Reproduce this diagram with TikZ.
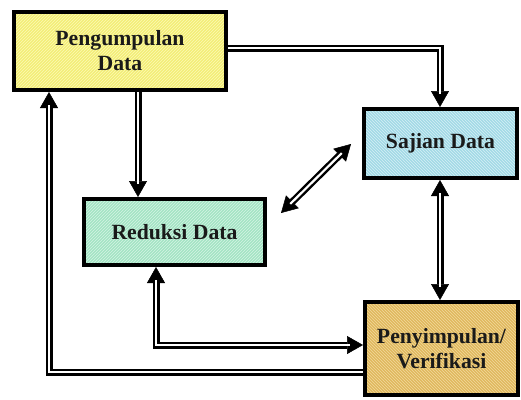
\documentclass[tikz,border=0pt]{standalone}
\usepackage{fontspec}
\setmainfont{Liberation Serif}
\usetikzlibrary{arrows.meta,patterns}
\definecolor{ylw}{HTML}{F3EE78}
\definecolor{ylwl}{HTML}{FCF9B4}
\definecolor{blu}{HTML}{A2DAE6}
\definecolor{blul}{HTML}{D6EFF5}
\definecolor{grn}{HTML}{A4E4C4}
\definecolor{grnl}{HTML}{D4F3E4}
\definecolor{tan}{HTML}{E0B85E}
\definecolor{tanl}{HTML}{F2DA9C}
\definecolor{txt}{HTML}{1A1A1A}
\begin{document}
\begin{tikzpicture}[x=1pt,y=-1pt,
  box/.style={draw=black, line width=4pt, inner sep=0pt, align=center,
    font=\fontsize{21.7}{25}\selectfont\bfseries, text=txt},
  tipb/.tip={Triangle[length=16pt,width=18pt,line width=0.5pt]},
  conn/.style={line width=7pt, line join=miter, black},
  core/.style={draw=white, line width=2.2pt},
]
\useasboundingbox (0,0) rectangle (521,399);

\node[box, minimum width=212pt, minimum height=78pt,
  preaction={fill=ylw}, pattern=north east lines, pattern color=ylwl]
  (P) at (120,51) {Pengumpulan\\Data};
\node[box, minimum width=153pt, minimum height=69pt,
  preaction={fill=blu}, pattern=north west lines, pattern color=blul]
  (S) at (440.5,143.5) {Sajian Data};
\node[box, minimum width=181pt, minimum height=66pt,
  preaction={fill=grn}, pattern=north east lines, pattern color=grnl]
  (R) at (174.5,232) {Reduksi Data};
\node[box, minimum width=153pt, minimum height=93pt,
  preaction={fill=tan}, pattern=north west lines, pattern color=tanl]
  (V) at (441.5,348.5) {Penyimpulan/\\Verifikasi};

\coordinate (c1) at (49,372);
\coordinate (c2) at (156,345);
\coordinate (c3) at (440,0);
\coordinate (c4) at (440,48);
\coordinate (c5) at (138,0);
\coordinate (d1) at (281,213);
\coordinate (d2) at (351,144);

% Pengumpulan -> Reduksi
\draw[conn, -tipb, postaction={core, arrows=-, shorten >=13pt}]
  (P.south -| c5) -- (R.north -| c5);
% Pengumpulan -> Sajian
\draw[conn, -tipb, postaction={core, arrows=-, shorten >=13pt}]
  (P.east |- c4) -- (c4) -- (S.north -| c4);
% Sajian <-> Penyimpulan
\draw[conn, tipb-tipb, postaction={core, arrows=-, shorten >=13pt, shorten <=13pt}]
  (S.south -| c3) -- (V.north -| c3);
% Reduksi <-> Sajian
\draw[conn, tipb-tipb, postaction={core, arrows=-, shorten >=13pt, shorten <=13pt}]
  (d1) -- (d2);
% Reduksi <-> Penyimpulan
\draw[conn, tipb-tipb, postaction={core, arrows=-, shorten >=13pt, shorten <=13pt}]
  (R.south -| c2) -- (c2) -- (V.west |- c2);
% Penyimpulan -> Pengumpulan
\draw[conn, -tipb, postaction={core, arrows=-, shorten >=13pt}]
  (V.west |- c1) -- (c1) -- (P.south -| c1);
\end{tikzpicture}
\end{document}
